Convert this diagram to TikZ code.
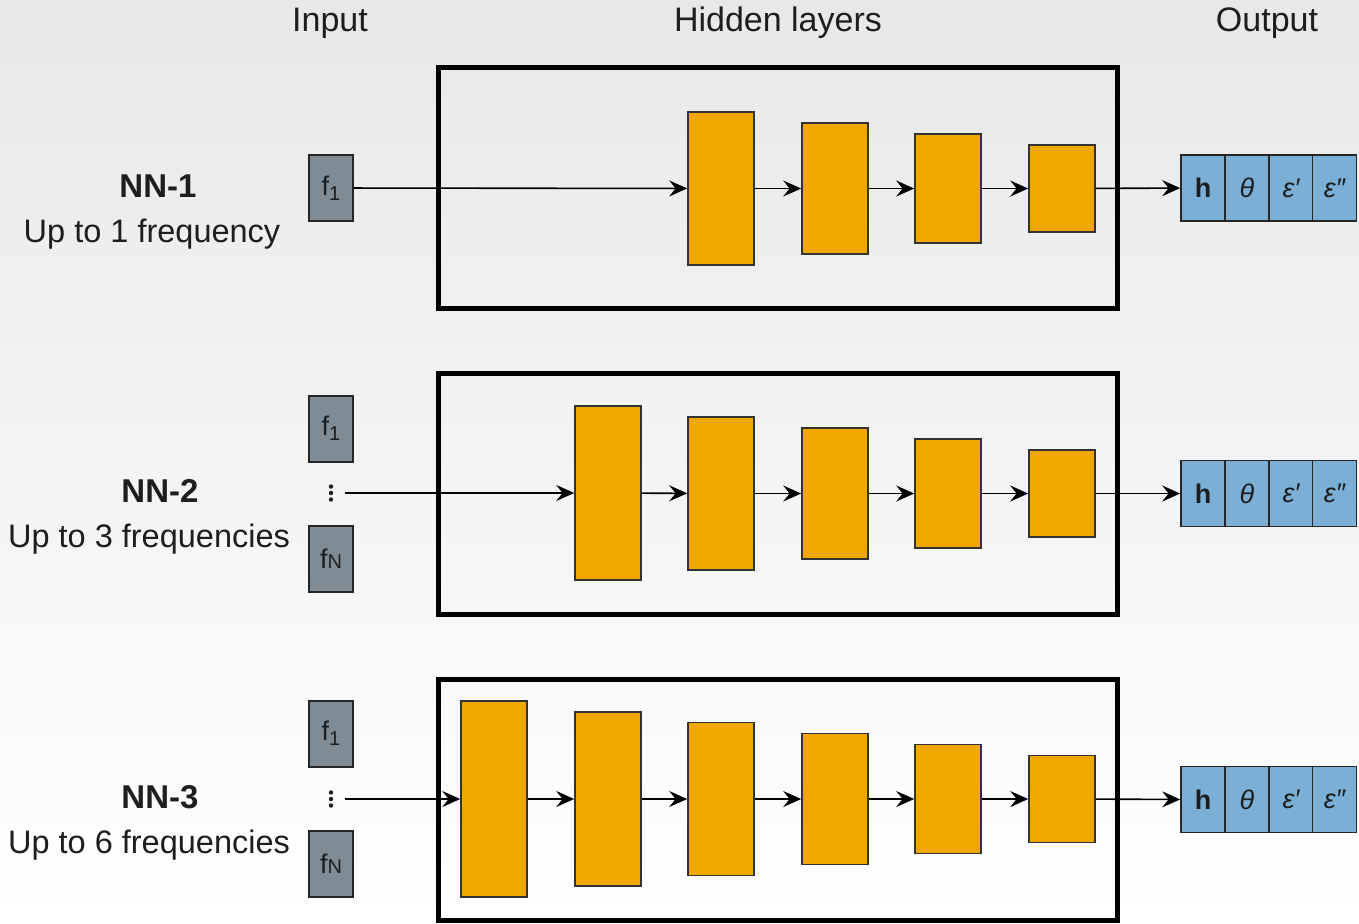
\documentclass[tikz,border=0pt]{standalone}
\usepackage{fontspec}
\setmainfont{Liberation Sans}
\usetikzlibrary{arrows.meta,calc}
\definecolor{bgtop}{HTML}{E8E8E8}
\definecolor{orng}{HTML}{F0A800}
\definecolor{inpgray}{HTML}{7F8C95}
\definecolor{outblue}{HTML}{7BAFD6}
\definecolor{txtdark}{HTML}{1E1E1E}
\begin{document}
\begin{tikzpicture}[x=0.5pt,y=-0.5pt,
  layer/.style={draw=black!80, line width=0.8pt, fill=orng, minimum width=33pt, inner sep=0pt},
  inbox/.style={draw=black!85, line width=1pt, fill=inpgray, minimum width=22pt, minimum height=33pt, inner sep=0pt, text=txtdark, font=\fontsize{13.5}{15}\selectfont},
  outcell/.style={draw=black!85, line width=0.8pt, fill=outblue, minimum width=22pt, minimum height=33pt, inner sep=0pt, text=txtdark, font=\fontsize{13.5}{15}\selectfont},
  frame/.style={draw=black, line width=2.5pt, minimum width=339.5pt, minimum height=120.5pt, inner sep=0pt},
  conn/.style={-{Stealth[length=9pt,width=8pt,inset=3.2pt]}, line width=0.8pt, black},
  head/.style={font=\fontsize{17}{20}\selectfont, text=txtdark},
  nnname/.style={font=\fontsize{16.5}{20}\selectfont\bfseries, text=txtdark},
  nndesc/.style={font=\fontsize{16.25}{20}\selectfont, text=txtdark},
  dotsbox/.style={minimum width=4pt, minimum height=10pt, inner sep=0pt}
]
\useasboundingbox (0,0) rectangle (1359,923);
\shade[top color=bgtop, bottom color=white] (0,0) rectangle (1359,923);

% headers
\node[head] (hin) at (330,23) {Input};
\node[head] (hhid) at (778,23) {Hidden layers};
\node[head] (hout) at (1267,23) {Output};

% frames
\node[frame] (fr1) at (777.5,187.5) {};
\node[frame] (fr2) at (777.5,493.5) {};
\node[frame] (fr3) at (777.5,799.5) {};

% labels
\node[nnname] (n1) at (158,186) {NN-1};
\node[nndesc] (d1) at (152,234) {Up to 1 frequency};
\node[nnname] (n2) at (160,491) {NN-2};
\node[nndesc] (d2) at (149,539) {Up to 3 frequencies};
\node[nnname] (n3) at (160,797) {NN-3};
\node[nndesc] (d3) at (149,845) {Up to 6 frequencies};

% inputs
\newcommand{\fone}{f\raisebox{-0.35ex}{\fontsize{10}{11}\selectfont 1}}
\newcommand{\fN}{f{\fontsize{10}{11}\selectfont N}}
\node[inbox] (i1) at (331,188) {\fone};
\node[inbox] (i2a) at (331,428.5) {\fone};
\node[inbox] (i2b) at (331,558.5) {\fN};
\node[dotsbox] (dt2) at (331,493) {};
\foreach \dy in {-6.5,0,6.5} \fill[txtdark] ($(dt2.center)+(0,\dy)$) circle (1.1pt);
\coordinate (s2) at (345,493);
\node[inbox] (i3a) at (331,733.5) {\fone};
\node[inbox] (i3b) at (331,863.5) {\fN};
\node[dotsbox] (dt3) at (331,799) {};
\foreach \dy in {-6.5,0,6.5} \fill[txtdark] ($(dt3.center)+(0,\dy)$) circle (1.1pt);
\coordinate (s3) at (345,799);

% outputs
\newcommand{\outrow}[2]{%
  \node[outcell] (#1h) at (1203,#2) {\bfseries h};
  \node[outcell] (#1t) at (1247,#2) {\itshape θ};
  \node[outcell] (#1e) at (1291,#2) {\itshape ε′};
  \node[outcell] (#1f) at (1334.5,#2) {\itshape ε″};
}
\outrow{o1}{188}
\outrow{o2}{493.5}
\outrow{o3}{799.5}

% NN-1 layers
\node[layer, minimum height=76.5pt] (a1) at (721,188.5) {};
\node[layer, minimum height=65.5pt] (a2) at (835,188.5) {};
\node[layer, minimum height=54.5pt] (a3) at (948,188.5) {};
\node[layer, minimum height=43.5pt] (a4) at (1062,188.5) {};
\draw[conn] (i1) -- (a1);
\draw[conn] (a1) -- (a2);
\draw[conn] (a2) -- (a3);
\draw[conn] (a3) -- (a4);
\draw[conn] (a4) -- (o1h);

% NN-2 layers
\node[layer, minimum height=87pt] (b1) at (608,493) {};
\node[layer, minimum height=76.5pt] (b2) at (721,493.5) {};
\node[layer, minimum height=65.5pt] (b3) at (835,493.5) {};
\node[layer, minimum height=54.5pt] (b4) at (948,493.5) {};
\node[layer, minimum height=43.5pt] (b5) at (1062,493.5) {};
\draw[conn] (s2) -- (b1);
\draw[conn] (b1) -- (b2);
\draw[conn] (b2) -- (b3);
\draw[conn] (b3) -- (b4);
\draw[conn] (b4) -- (b5);
\draw[conn] (b5) -- (o2h);

% NN-3 layers
\node[layer, minimum height=98pt] (c1) at (494,799) {};
\node[layer, minimum height=87pt] (c2) at (608,799) {};
\node[layer, minimum height=76.5pt] (c3) at (721,799) {};
\node[layer, minimum height=65.5pt] (c4) at (835,799) {};
\node[layer, minimum height=54.5pt] (c5) at (948,799) {};
\node[layer, minimum height=43.5pt] (c6) at (1062,799) {};
\draw[conn] (s3) -- (c1);
\draw[conn] (c1) -- (c2);
\draw[conn] (c2) -- (c3);
\draw[conn] (c3) -- (c4);
\draw[conn] (c4) -- (c5);
\draw[conn] (c5) -- (c6);
\draw[conn] (c6) -- (o3h);
\end{tikzpicture}
\end{document}
